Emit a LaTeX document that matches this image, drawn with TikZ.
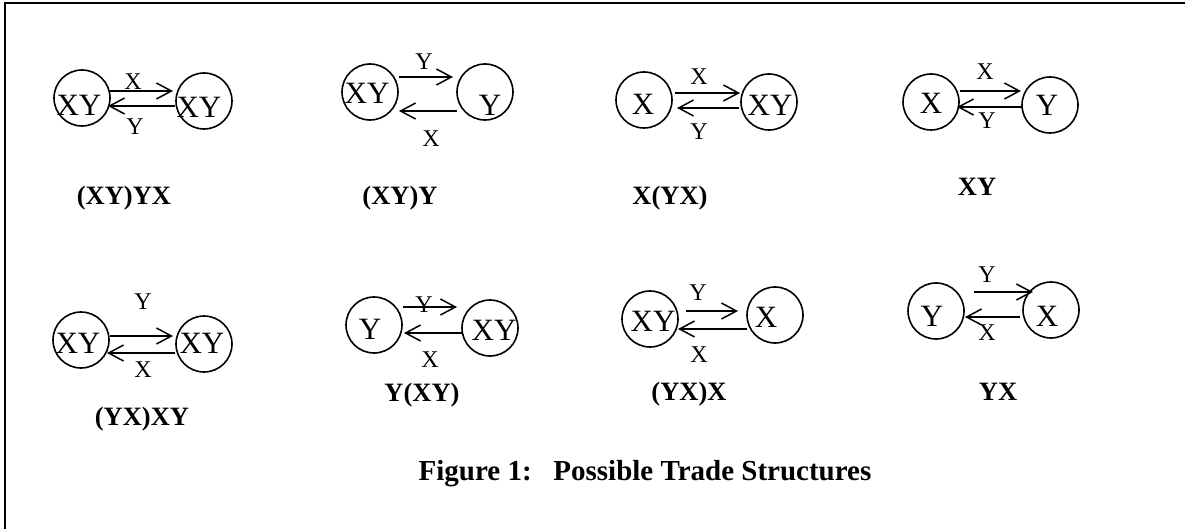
\documentclass[tikz,border=0pt]{standalone}
\usepackage{fontspec}
\setmainfont{Liberation Serif}
\usetikzlibrary{arrows.meta}
\tikzset{
  circ/.style={circle, draw, line width=1.6pt, minimum size=56pt, inner sep=0pt},
  big/.style={font=\fontsize{31}{31}\selectfont, anchor=base, inner sep=0pt},
  lab/.style={font=\fontsize{24}{24}\selectfont, anchor=base, inner sep=0pt},
  tname/.style={font=\bfseries\fontsize{26.5}{26.5}\selectfont, anchor=base, inner sep=0pt},
  arr/.style={line width=1.5pt, -{Straight Barb[length=15pt,width=16pt,line width=1.5pt]}}
}
\begin{document}
\begin{tikzpicture}[x=1pt,y=-1pt]
\useasboundingbox (0,0) rectangle (1185,529);
\draw[line width=2pt] (5,529) -- (5,3) -- (1185,3);
% Panel 1
\node[circ] (a1) at (82,98) {};
\node[circ] (b1) at (204,101) {};
\node[big] (ta1) at (79,116) {XY};
\node[big] (tb1) at (199,118) {XY};
\draw[arr] ([shift={(28,-7)}]a1.center) -- ([shift={(-31,-10)}]b1.center);
\draw[arr] ([shift={(-29,5)}]b1.center) -- ([shift={(26,8)}]a1.center);
\node[lab] (x1) at (133,90) {X};
\node[lab] (y1) at (135,135) {Y};
\node[tname] (n1) at (124,205) {(XY)YX};
% Panel 2
\node[circ] (a2) at (370,92) {};
\node[circ] (b2) at (485,92) {};
\node[big] (ta2) at (367,104) {XY};
\node[big] (tb2) at (490,116) {Y};
\draw[arr] ([shift={(29,-15)}]a2.center) -- ([shift={(-32,-15)}]b2.center);
\draw[arr] ([shift={(-28,19)}]b2.center) -- ([shift={(29,19)}]a2.center);
\node[lab] (y2) at (424,70) {Y};
\node[lab] (x2) at (431,147) {X};
\node[tname] (n2) at (400,205) {(XY)Y};
% Panel 3
\node[circ] (a3) at (644,100) {};
\node[circ] (b3) at (769,102) {};
\node[big] (ta3) at (643,115) {X};
\node[big] (tb3) at (770,116) {XY};
\draw[arr] ([shift={(31,-7)}]a3.center) -- ([shift={(-29,-9)}]b3.center);
\draw[arr] ([shift={(-30,6)}]b3.center) -- ([shift={(33,8)}]a3.center);
\node[lab] (x3) at (699,85) {X};
\node[lab] (y3) at (699,140) {Y};
\node[tname] (n3) at (670,205) {X(YX)};
% Panel 4
\node[circ] (a4) at (931,102) {};
\node[circ] (b4) at (1050,105) {};
\node[big] (ta4) at (931,114) {X};
\node[big] (tb4) at (1047,116) {Y};
\draw[arr] ([shift={(29,-11)}]a4.center) -- ([shift={(-29,-14)}]b4.center);
\draw[arr] ([shift={(-28,2)}]b4.center) -- ([shift={(26,5)}]a4.center);
\node[lab] (x4) at (985,80) {X};
\node[lab] (y4) at (987,129) {Y};
\node[tname] (n4) at (977,196) {XY};
% Panel 5
\node[circ] (a5) at (81,340) {};
\node[circ] (b5) at (204,344) {};
\node[big] (ta5) at (78,353) {XY};
\node[big] (tb5) at (202,353) {XY};
\draw[arr] ([shift={(29,-4)}]a5.center) -- ([shift={(-31,-8)}]b5.center);
\draw[arr] ([shift={(-29,9)}]b5.center) -- ([shift={(26,13)}]a5.center);
\node[lab] (y5) at (143,309) {Y};
\node[lab] (x5) at (143,377) {X};
\node[tname] (n5) at (142,425) {(YX)XY};
% Panel 6
\node[circ] (a6) at (374,325) {};
\node[circ] (b6) at (490,328) {};
\node[big] (ta6) at (370,339) {Y};
\node[big] (tb6) at (494,340) {XY};
\draw[arr] ([shift={(29,-18)}]a6.center) -- ([shift={(-33,-21)}]b6.center);
\draw[arr] ([shift={(-28,5)}]b6.center) -- ([shift={(30,8)}]a6.center);
\node[lab] (y6) at (424,312) {Y};
\node[lab] (x6) at (430,367) {X};
\node[tname] (n6) at (422,401) {Y(XY)};
% Panel 7
\node[circ] (a7) at (650,319) {};
\node[circ] (b7) at (775,315) {};
\node[big] (ta7) at (653,331) {XY};
\node[big] (tb7) at (766,327) {X};
\draw[arr] ([shift={(36,-8)}]a7.center) -- ([shift={(-37,-4)}]b7.center);
\draw[arr] ([shift={(-28,14)}]b7.center) -- ([shift={(28,10)}]a7.center);
\node[lab] (y7) at (698,300) {Y};
\node[lab] (x7) at (699,362) {X};
\node[tname] (n7) at (689,400) {(YX)X};
% Panel 8
\node[circ] (a8) at (936,311) {};
\node[circ] (b8) at (1051,310) {};
\node[big] (ta8) at (932,326) {Y};
\node[big] (tb8) at (1047,326) {X};
\draw[arr] ([shift={(38,-19)}]a8.center) -- ([shift={(-18,-18)}]b8.center);
\draw[arr] ([shift={(-31,7)}]b8.center) -- ([shift={(29,6)}]a8.center);
\node[lab] (y8) at (987,282) {Y};
\node[lab] (x8) at (987,340) {X};
\node[tname] (n8) at (998,400) {YX};
% Caption
\node[font=\bfseries\fontsize{29}{29}\selectfont, anchor=base, inner sep=0pt] (cap) at (645,480) {Figure 1:\hspace{0.75em}Possible Trade Structures};
\end{tikzpicture}
\end{document}
